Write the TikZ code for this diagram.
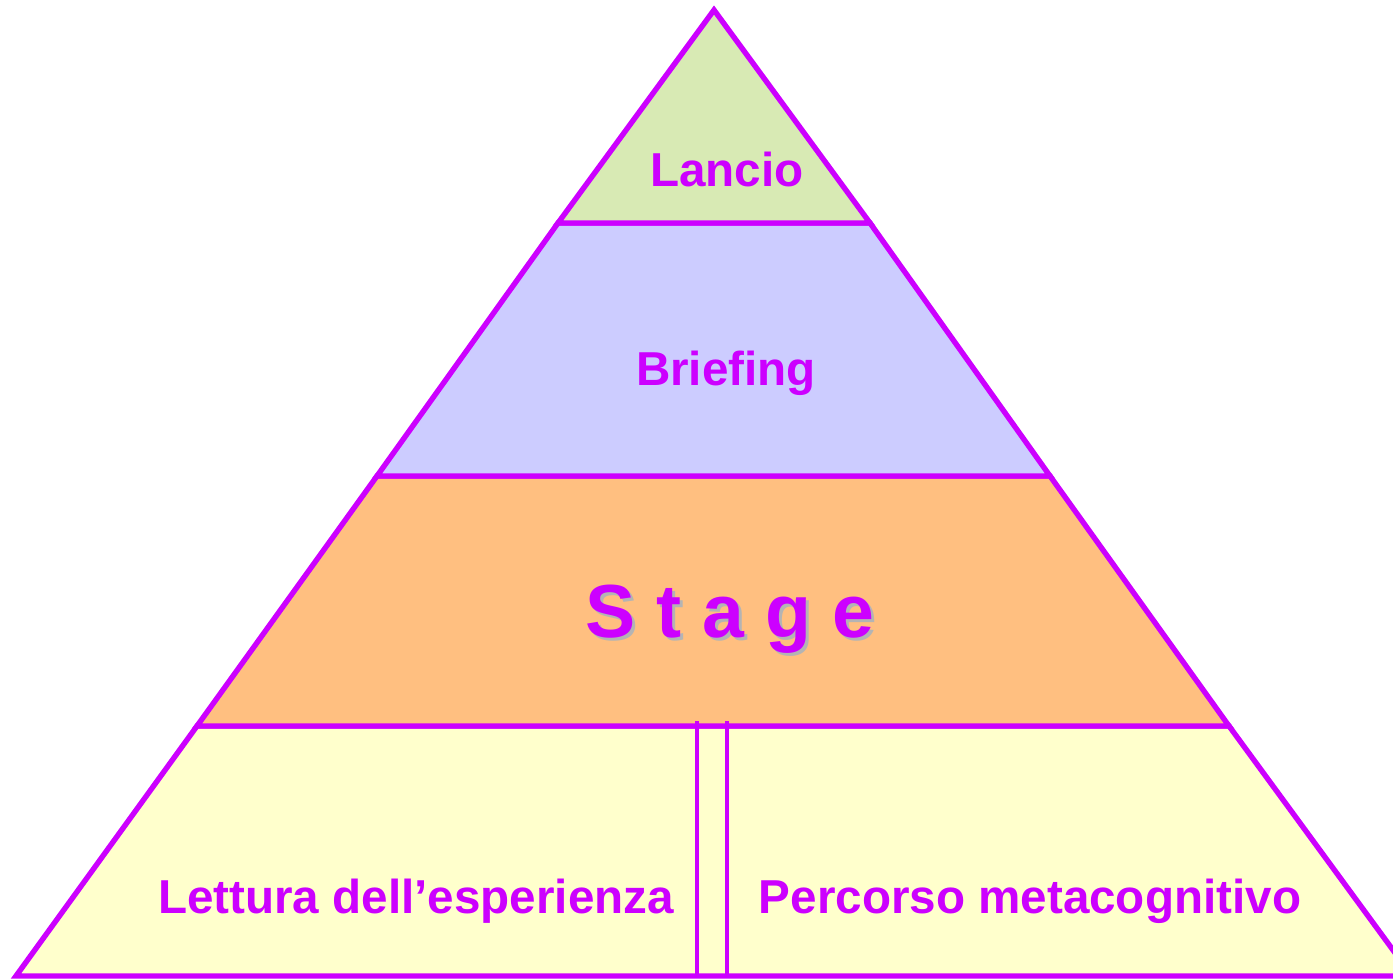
\documentclass[tikz,border=0pt]{standalone}
\usepackage{fontspec}
\setmainfont{Liberation Sans}
\definecolor{pur}{HTML}{CC00FF}
\definecolor{fgreen}{HTML}{D8EAB4}
\definecolor{fblue}{HTML}{CCCCFF}
\definecolor{forange}{HTML}{FFBF80}
\definecolor{fyellow}{HTML}{FFFFCC}
\definecolor{shad}{HTML}{B4B4B4}
\begin{document}
\begin{tikzpicture}[x=0.5pt,y=-0.5pt,
  band/.style={draw=pur,line width=2.7pt,line join=miter},
  divider/.style={draw=pur,line width=2.4pt},
  lbl/.style={text=pur,font=\bfseries\fontsize{23.8}{28}\selectfont,anchor=base,inner sep=0pt},
  big/.style={font=\bfseries\fontsize{37.6}{44}\selectfont,anchor=base,inner sep=0pt}]
\useasboundingbox (0,0) rectangle (1393,979);
\clip (0,0) rectangle (1393,979);
% apex and band corners
\coordinate (A) at (714,10);
\coordinate (L1) at (558,223); \coordinate (R1) at (870,223);
\coordinate (L2) at (377,476); \coordinate (R2) at (1050,476);
\coordinate (L3) at (197,726); \coordinate (R3) at (1229,726);
\coordinate (L4) at (16,976);  \coordinate (R4) at (1412,976);
\filldraw[band,fill=fyellow] (L3) -- (R3) -- (R4) -- (L4) -- cycle;
\filldraw[band,fill=forange] (L2) -- (R2) -- (R3) -- (L3) -- cycle;
\filldraw[band,fill=fblue] (L1) -- (R1) -- (R2) -- (L2) -- cycle;
\filldraw[band,fill=fgreen] (A) -- (R1) -- (L1) -- cycle;
% double divider
\coordinate (d1t) at (697,721); \coordinate (d1b) at (697,976);
\coordinate (d2t) at (727,721); \coordinate (d2b) at (727,976);
\draw[divider] (d1t) -- (d1b);
\draw[divider] (d2t) -- (d2b);
% labels
\node[lbl] (lancio) at (727,186) {Lancio};
\node[lbl] (briefing) at (726,385) {Briefing};
\node[big,text=shad] (stageshadow) at (733,640) {S t a g e};
\node[big,text=pur] (stage) at (730,637) {S t a g e};
\node[lbl] (lettura) at (416,913) {Lettura dell’esperienza};
\node[lbl] (percorso) at (1030,913) {Percorso metacognitivo};
\end{tikzpicture}
\end{document}
